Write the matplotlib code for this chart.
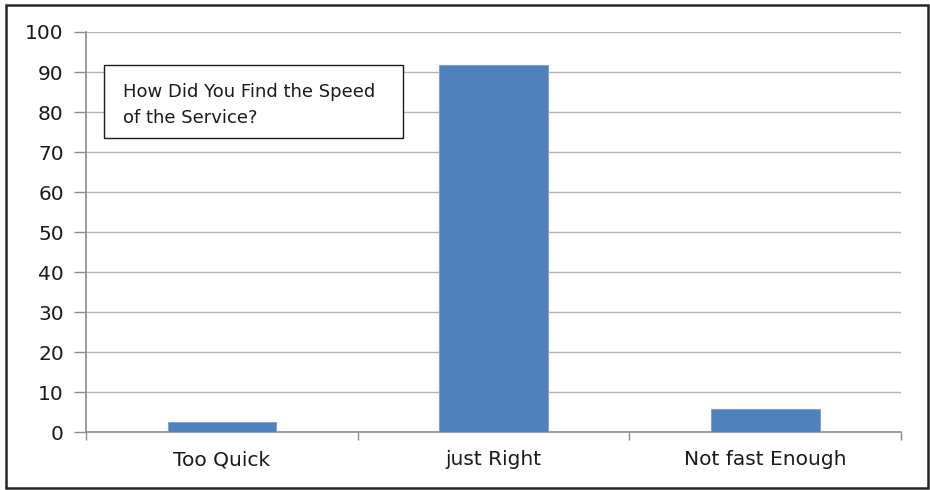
import matplotlib
matplotlib.use("Agg")
import matplotlib.pyplot as plt
from matplotlib.patches import Rectangle

categories = ["Too Quick", "just Right", "Not fast Enough"]
values = [2.4, 91.7, 5.7]
yticks = [0, 10, 20, 30, 40, 50, 60, 70, 80, 90, 100]
title_lines = ["How Did You Find the Speed", "of the Service?"]

plt.rcParams['font.family'] = ['DejaVu Sans']

W, H = 930, 490
fig = plt.figure(figsize=(W / 100, H / 100), dpi=100)
fig.patch.set_facecolor("white")

# outer frame of the chart area
fig.patches.append(Rectangle((6 / W, 2 / H), 922 / W, 483 / H, transform=fig.transFigure,
                             fill=False, edgecolor="#262626", linewidth=1.8))

ax = fig.add_axes([86 / W, 1 - 432 / H, (901 - 86) / W, (432 - 32) / H])
x = list(range(len(categories)))
ax.bar(x, values, width=0.4, color="#4f81bd", edgecolor="#7fa3d1", linewidth=0.8, zorder=3)

ax.set_xlim(-0.5, len(categories) - 0.5)
ax.set_ylim(0, 100)
ax.set_yticks(yticks)
ax.set_yticklabels([str(v) for v in yticks], fontsize=14.5, color="#1a1a1a")
ax.set_xticks(x)
ax.set_xticklabels(categories, fontsize=14.5, color="#1a1a1a")
ax.set_xticks([-0.5, 0.5, 1.5, 2.5], minor=True)

ax.grid(axis="y", color="#b3b3b3", linewidth=1.0, zorder=0)
for s in ["top", "right"]:
    ax.spines[s].set_visible(False)
for s in ["left", "bottom"]:
    ax.spines[s].set_color("#8c8c8c")
    ax.spines[s].set_linewidth(1.2)

ax.tick_params(axis="y", which="major", direction="out", length=9, width=1, color="#8c8c8c", pad=7)
ax.tick_params(axis="x", which="major", length=0, pad=13)
ax.tick_params(axis="x", which="minor", direction="out", length=6, width=1, color="#8c8c8c")

# caption box inside the plot
box = Rectangle((104 / W, 1 - 138 / H), (403 - 104) / W, (138 - 65) / H, transform=fig.transFigure,
                facecolor="white", edgecolor="#1a1a1a", linewidth=1.0, zorder=5)
fig.patches.append(box)
for line, base in zip(title_lines, [97, 123]):
    fig.text(123 / W, 1 - base / H, line, fontsize=13, color="#1a1a1a", va="baseline", ha="left",
             zorder=6)

fig.savefig("out.png", dpi=100)
